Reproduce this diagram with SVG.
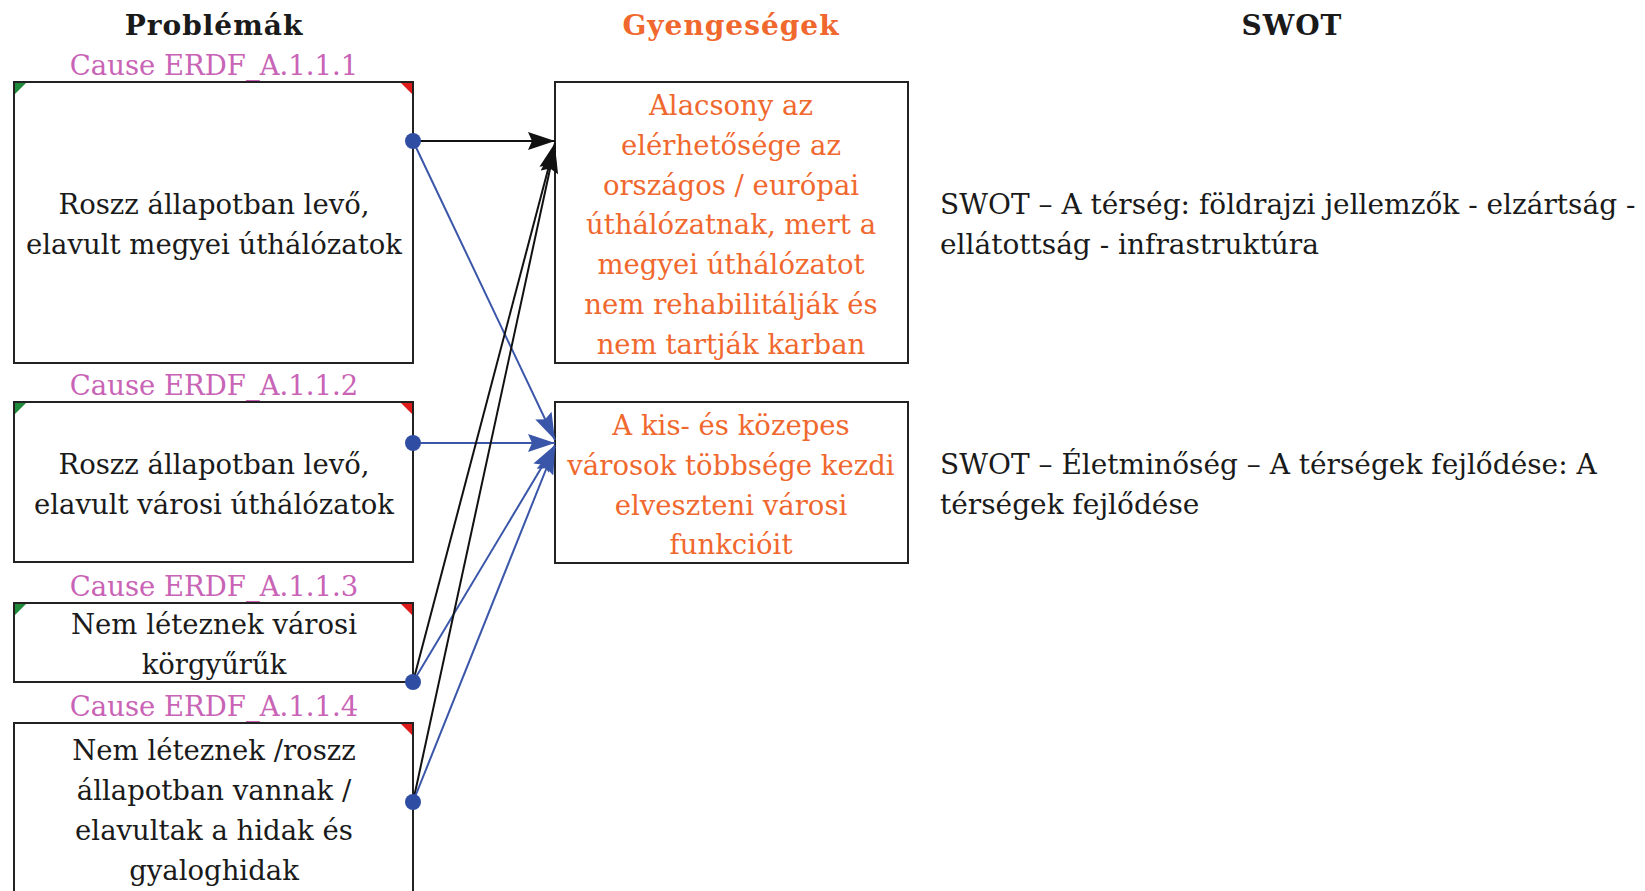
<svg xmlns="http://www.w3.org/2000/svg" width="1645" height="891" viewBox="0 0 1645 891">
<style>
.t{font-family:"DejaVu Serif","Liberation Serif",serif;font-size:27.5px;text-anchor:middle;fill:#1a1a1a}
.w{font-family:"DejaVu Serif","Liberation Serif",serif;font-size:27.5px;text-anchor:middle;fill:#f0682e}
.s{font-family:"DejaVu Serif","Liberation Serif",serif;font-size:28px;fill:#1a1a1a}
.c{font-family:"DejaVu Serif","Liberation Serif",serif;font-size:27.5px;text-anchor:middle;fill:#c963b6}
.h{font-family:"DejaVu Serif","Liberation Serif",serif;font-size:28px;font-weight:bold;text-anchor:middle;letter-spacing:1px}
.box{fill:#fff;stroke:#222;stroke-width:2}
.g{fill:#1e8a3a}
.r{fill:#e01b1b}
.dot{fill:#2f4ea3}
.lk{stroke:#111;stroke-width:2;fill:none}
.lb{stroke:#3a56a8;stroke-width:2;fill:none}
</style>
<defs>
<marker id="ak" markerUnits="userSpaceOnUse" markerWidth="30" markerHeight="20" refX="27" refY="9" orient="auto"><path d="M0,0 L27,9 L0,18 L4,9 z" fill="#111"/></marker>
<marker id="ab" markerUnits="userSpaceOnUse" markerWidth="30" markerHeight="20" refX="27" refY="9" orient="auto"><path d="M0,0 L27,9 L0,18 L4,9 z" fill="#3a56a8"/></marker>
</defs>
<rect width="1645" height="891" fill="#fff"/>
<g id="headers">
<text class="h" x="214" y="35" fill="#1a1a1a">Problémák</text>
<text class="h" x="731" y="35" fill="#f0682e">Gyengeségek</text>
<text class="h" x="1292" y="35" fill="#1a1a1a">SWOT</text>
</g>
<g id="p1">
<text class="c" x="214" y="75">Cause ERDF_A.1.1.1</text>
<rect class="box" x="14" y="82" width="399" height="281"/>
<polygon class="g" points="15,83 26,83 15,94"/><polygon class="r" points="412,83 401,83 412,94"/>
<text class="t" x="214" y="214">Roszz állapotban levő,</text>
<text class="t" x="214" y="254">elavult megyei úthálózatok</text>
</g>
<g id="p2">
<text class="c" x="214" y="395">Cause ERDF_A.1.1.2</text>
<rect class="box" x="14" y="402" width="399" height="160"/>
<polygon class="g" points="15,403 26,403 15,414"/><polygon class="r" points="412,403 401,403 412,414"/>
<text class="t" x="214" y="474">Roszz állapotban levő,</text>
<text class="t" x="214" y="514">elavult városi úthálózatok</text>
</g>
<g id="p3">
<text class="c" x="214" y="596">Cause ERDF_A.1.1.3</text>
<rect class="box" x="14" y="603" width="399" height="79"/>
<polygon class="g" points="15,604 26,604 15,615"/><polygon class="r" points="412,604 401,604 412,615"/>
<text class="t" x="214" y="634">Nem léteznek városi</text>
<text class="t" x="214" y="674">körgyűrűk</text>
</g>
<g id="p4">
<text class="c" x="214" y="716">Cause ERDF_A.1.1.4</text>
<rect class="box" x="14" y="723" width="399" height="190"/>
<polygon class="r" points="412,724 401,724 412,735"/>
<text class="t" x="214" y="760">Nem léteznek /roszz</text>
<text class="t" x="214" y="800">állapotban vannak /</text>
<text class="t" x="214" y="840">elavultak a hidak és</text>
<text class="t" x="214" y="880">gyaloghidak</text>
</g>
<g id="w1">
<rect class="box" x="555" y="82" width="353" height="281"/>
<text class="w" x="731" y="115">Alacsony az</text>
<text class="w" x="731" y="155">elérhetősége az</text>
<text class="w" x="731" y="195">országos / európai</text>
<text class="w" x="731" y="234">úthálózatnak, mert a</text>
<text class="w" x="731" y="274">megyei úthálózatot</text>
<text class="w" x="731" y="314">nem rehabilitálják és</text>
<text class="w" x="731" y="354">nem tartják karban</text>
</g>
<g id="w2">
<rect class="box" x="555" y="402" width="353" height="161"/>
<text class="w" x="731" y="435">A kis- és közepes</text>
<text class="w" x="731" y="475">városok többsége kezdi</text>
<text class="w" x="731" y="515">elveszteni városi</text>
<text class="w" x="731" y="554">funkcióit</text>
</g>
<g id="s1">
<text class="s" x="940" y="214">SWOT – A térség: földrajzi jellemzők - elzártság -</text>
<text class="s" x="940" y="254">ellátottság - infrastruktúra</text>
</g>
<g id="s2">
<text class="s" x="940" y="474">SWOT – Életminőség – A térségek fejlődése: A</text>
<text class="s" x="940" y="514">térségek fejlődése</text>
</g>
<g id="connectors">
<path class="lk" d="M413,141 L555,141" marker-end="url(#ak)"/>
<path class="lb" d="M413,141 L555,440" marker-end="url(#ab)"/>
<path class="lb" d="M413,443 L555,443" marker-end="url(#ab)"/>
<path class="lk" d="M413,682 L555,143" marker-end="url(#ak)"/>
<path class="lb" d="M413,682 L555,445" marker-end="url(#ab)"/>
<path class="lk" d="M413,802 L555,146" marker-end="url(#ak)"/>
<path class="lb" d="M413,802 L555,447" marker-end="url(#ab)"/>
<circle class="dot" cx="413" cy="141" r="8"/>
<circle class="dot" cx="413" cy="443" r="8"/>
<circle class="dot" cx="413" cy="682" r="8"/>
<circle class="dot" cx="413" cy="802" r="8"/>
</g>
</svg>
